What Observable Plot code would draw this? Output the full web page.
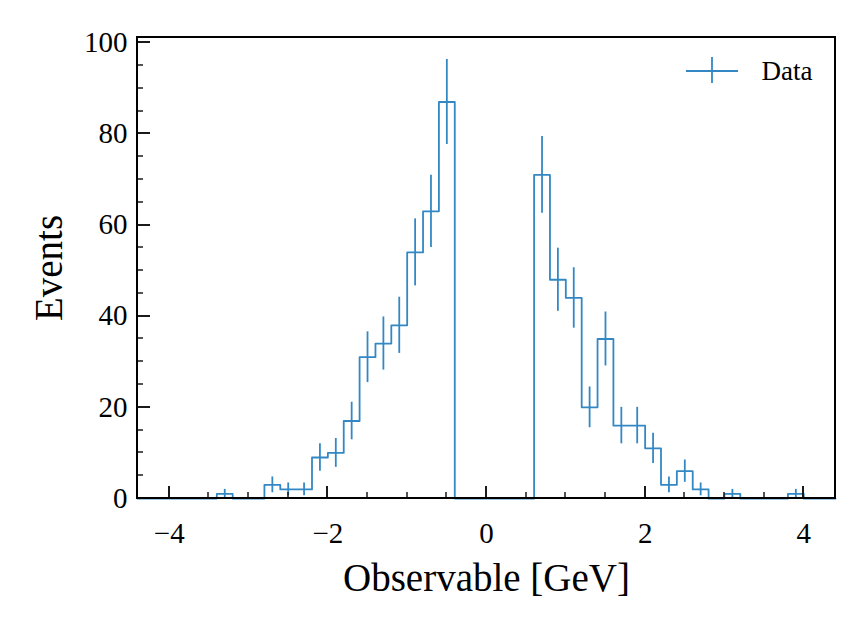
<!DOCTYPE html>
<html>
<head>
<meta charset="utf-8">
<script src="https://cdn.jsdelivr.net/npm/d3@7"></script>
<script src="https://cdn.jsdelivr.net/npm/@observablehq/plot@0.6"></script>
<style>
  html, body { margin: 0; padding: 0; background: white; }
  #chart { width: 864px; height: 629px; }
</style>
</head>
<body>
<div id="chart"></div>
<script>
// Bin edges (GeV) and event counts per bin
const binEdges = [-4.4,-4.2,-4.0,-3.8,-3.6,-3.4,-3.2,-3.0,-2.8,-2.6,-2.4,-2.2,-2.0,-1.8,-1.6,-1.4,-1.2,-1.0,-0.8,-0.6,-0.4,-0.2,0.0,0.2,0.4,0.6,0.8,1.0,1.2,1.4,1.6,1.8,2.0,2.2,2.4,2.6,2.8,3.0,3.2,3.4,3.6,3.8,4.0,4.2,4.4];
const counts = [0,0,0,0,0,1,0,0,3,2,2,9,10,17,31,34,38,54,63,87,0,0,0,0,0,71,48,44,20,35,16,16,11,3,6,2,0,1,0,0,0,1,0,0];

const xMajorTicks = [-4, -2, 0, 2, 4];
const xMinorTicks = [-3.5, -3, -2.5, -1.5, -1, -0.5, 0.5, 1, 1.5, 2.5, 3, 3.5];
const yMajorTicks = [0, 20, 40, 60, 80, 100];
const yMinorTicks = [5, 10, 15, 25, 30, 35, 45, 50, 55, 65, 70, 75, 85, 90, 95];
const xDomain = [-4.4, 4.4];
const yDomain = [0, 101.15];

const xLabel = "Observable [GeV]";
const yLabel = "Events";
const legendLabel = "Data";

const color = "#3388C4";
const font = "'Liberation Serif', serif";

// Step line points
const stepPts = counts.map((c, i) => ({x: binEdges[i], y: c}));
stepPts.push({x: binEdges[binEdges.length - 1], y: counts[counts.length - 1]});

// Error bars (Poisson)
const bars = counts
  .map((c, i) => ({xc: (binEdges[i] + binEdges[i + 1]) / 2, c, e: Math.sqrt(c)}))
  .filter(d => d.c > 0);

const mL = 137, mR = 29, mT = 37, mB = 131, W = 864, H = 629;

const chart = Plot.plot({
  width: W, height: H,
  marginLeft: mL, marginRight: mR, marginTop: mT, marginBottom: mB,
  style: {fontFamily: font, background: "white", color: "black"},
  x: {domain: xDomain, label: null},
  y: {domain: yDomain, label: null},
  marks: [
    Plot.line(stepPts, {x: "x", y: "y", curve: "step-after", stroke: color, strokeWidth: 1.8}),
    Plot.ruleX(bars, {x: "xc", y1: d => d.c - d.e, y2: d => d.c + d.e, stroke: color, strokeWidth: 1.8}),
    // tick labels
    Plot.axisX(xMajorTicks, {tickSize: 0, tickPadding: 24, fontSize: 29, label: null, fill: "black"}),
    Plot.axisY(yMajorTicks, {tickSize: 0, tickPadding: 10, fontSize: 29, label: null, fill: "black"}),
    // axis titles
    Plot.text([xLabel], {frameAnchor: "bottom", dy: 80, textAnchor: "middle", lineAnchor: "middle", fontSize: 39, fill: "black"}),
    Plot.text([yLabel], {frameAnchor: "left", dx: -88, rotate: -90, textAnchor: "middle", lineAnchor: "middle", fontSize: 39, fill: "black"}),
    // legend label
    Plot.text([legendLabel], {frameAnchor: "top-right", dx: -23, dy: 34, textAnchor: "end", lineAnchor: "middle", fontSize: 27, fill: "black"})
  ]
});

// inward ticks drawn with the plot's own scales
const sx = chart.scale("x"), sy = chart.scale("y");
const svg = d3.select(chart);
const bottom = H - mB, left = mL;
const px = v => Math.round(sx.apply(v));
const py = v => Math.round(sy.apply(v));
const tg = svg.append("g").attr("fill", "none");
xMajorTicks.forEach(v => tg.append("line").attr("x1", px(v)).attr("x2", px(v)).attr("y1", bottom).attr("y2", bottom - 12).attr("stroke", "#1a1a1a").attr("stroke-width", 2));
xMinorTicks.forEach(v => tg.append("line").attr("x1", px(v)).attr("x2", px(v)).attr("y1", bottom).attr("y2", bottom - 6).attr("stroke", "#1a1a1a").attr("stroke-width", 1.5));
yMajorTicks.forEach(v => tg.append("line").attr("y1", py(v)).attr("y2", py(v)).attr("x1", left).attr("x2", left + 13).attr("stroke", "#1a1a1a").attr("stroke-width", 2));
yMinorTicks.forEach(v => tg.append("line").attr("y1", py(v)).attr("y2", py(v)).attr("x1", left).attr("x2", left + 6).attr("stroke", "#1a1a1a").attr("stroke-width", 1.5));

// frame on top
svg.append("rect").attr("x", mL).attr("y", mT).attr("width", W - mL - mR).attr("height", H - mT - mB)
  .attr("fill", "none").attr("stroke", "black").attr("stroke-width", 2);

// legend symbol (line with error bar)
const lg = svg.append("g").attr("stroke", color).attr("stroke-width", 1.8);
const lx0 = W - mR - 149, lx1 = W - mR - 97, ly = mT + 34;
lg.append("line").attr("x1", lx0).attr("x2", lx1).attr("y1", ly).attr("y2", ly);
lg.append("line").attr("x1", (lx0 + lx1) / 2).attr("x2", (lx0 + lx1) / 2).attr("y1", ly - 14).attr("y2", ly + 12);

document.getElementById("chart").appendChild(chart);
</script>
</body>
</html>
